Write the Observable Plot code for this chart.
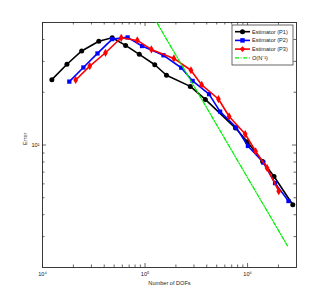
<!DOCTYPE html>
<html>
<head>
<meta charset="utf-8">
<script src="https://cdn.jsdelivr.net/npm/d3@7"></script>
<script src="https://cdn.jsdelivr.net/npm/@observablehq/plot@0.6"></script>
<style>
  html, body { margin: 0; padding: 0; background: #fff; }
  #wrap { position: relative; width: 327px; height: 300px; }
  #legend { position: absolute; left: 0; top: 0; }
</style>
</head>
<body>
<div id="wrap"></div>
<script>
// ---- data ----
const p1Dofs = [12340, 17320, 24100, 35400, 47840, 64600, 87900, 124400, 161900, 276200, 387300, 762700, 993000, 1403000, 1812000, 2761000];
const p1Err  = [23.6, 28.9, 34.4, 39.1, 40.9, 37.0, 32.9, 28.7, 25.0, 21.6, 18.2, 12.49, 10.45, 8.04, 6.61, 4.56];

const p2Dofs = [18260, 25050, 34360, 47840, 67600, 93500, 151300, 225400, 291000, 421000, 539500, 774000, 1007000, 1425000, 1853000, 2505000];
const p2Err  = [23.0, 27.7, 33.3, 40.2, 41.1, 36.7, 32.5, 27.6, 23.2, 19.5, 15.5, 12.6, 9.87, 7.94, 6.06, 4.79];

const p3Dofs = [21070, 28900, 41140, 58600, 84100, 115300, 191000, 280400, 356600, 519700, 661000, 948000, 1197000, 1548000, 2013000];
const p3Err  = [23.5, 28.2, 33.6, 40.9, 39.5, 35.1, 31.2, 26.7, 22.0, 18.3, 14.55, 11.55, 9.21, 7.40, 5.45];

const refDofs = [100000, 2448000];
const refErr  = [65.1, 2.66];

const seriesNames = ["Estimator (P1)", "Estimator (P2)", "Estimator (P3)", "O(N\u207B\u00B9)"];
const seriesColors = ["#000000", "#0000ff", "#ff0000", "#00ee00"];
const seriesSymbols = ["circle", "square", "diamond", null];

const xTickValues = [1e4, 1e5, 1e6];
const xTickLabels = ["10\u2074", "10\u2075", "10\u2076"];
const yTickValues = [10];
const yTickLabels = ["10\u00B9"];
const xTitle = "Number of DOFs";
const yTitle = "Error";

// ---- build ----
const W = 327, H = 300, mL = 42, mR = 31, mT = 22, mB = 33;
const frameW = W - mL - mR, frameH = H - mT - mB;
const xDomain = [1e4, 3e6], yDomain = [2, 50];

const minor = (lo, hi) => {
  const out = [];
  for (let e = Math.floor(Math.log10(lo)); e <= Math.ceil(Math.log10(hi)); e++)
    for (let m = 2; m <= 9; m++) { const v = m * 10 ** e; if (v > lo && v < hi) out.push(v); }
  return out;
};
const xMinor = minor(xDomain[0], xDomain[1]);
const yMinor = minor(yDomain[0], yDomain[1]);

const toRows = (xs, ys) => xs.map((x, i) => ({x, y: ys[i]}));
const s1 = toRows(p1Dofs, p1Err), s2 = toRows(p2Dofs, p2Err), s3 = toRows(p3Dofs, p3Err), sr = toRows(refDofs, refErr);

const axisColor = "#262626";
const font = "'Liberation Sans', Arial, Helvetica, sans-serif";
const maj = 4, mnr = 2.5;

const tickMarks = (vals, len) => [
  Plot.ruleX(vals, {x: d => d, insetTop: frameH - len, stroke: axisColor, strokeWidth: 0.7}),
  Plot.ruleX(vals, {x: d => d, insetBottom: frameH - len, stroke: axisColor, strokeWidth: 0.7})
];
const tickMarksY = (vals, len) => [
  Plot.ruleY(vals, {y: d => d, insetRight: frameW - len, stroke: axisColor, strokeWidth: 0.7}),
  Plot.ruleY(vals, {y: d => d, insetLeft: frameW - len, stroke: axisColor, strokeWidth: 0.7})
];

const lineW = 1.6;
const chart = Plot.plot({
  width: W, height: H,
  marginLeft: mL, marginRight: mR, marginTop: mT, marginBottom: mB,
  style: {fontFamily: font, fontSize: "5.6px", color: "#222", background: "#fff"},
  x: {type: "log", domain: xDomain, axis: null},
  y: {type: "log", domain: yDomain, axis: null},
  marks: [
    ...tickMarks(xMinor, mnr), ...tickMarks(xTickValues, maj),
    ...tickMarksY(yMinor, mnr), ...tickMarksY(yTickValues, maj),
    Plot.frame({stroke: axisColor, strokeWidth: 0.9}),
    Plot.line(s1, {x: "x", y: "y", stroke: seriesColors[0], strokeWidth: lineW}),
    Plot.dot(s1, {x: "x", y: "y", fill: seriesColors[0], r: 2.5, symbol: seriesSymbols[0]}),
    Plot.line(s2, {x: "x", y: "y", stroke: seriesColors[1], strokeWidth: lineW}),
    Plot.dot(s2, {x: "x", y: "y", fill: seriesColors[1], r: 2.4, symbol: seriesSymbols[1]}),
    Plot.line(s3, {x: "x", y: "y", stroke: seriesColors[2], strokeWidth: lineW}),
    Plot.dot(s3, {x: "x", y: "y", fill: seriesColors[2], r: 2.5, symbol: seriesSymbols[2]}),
    Plot.line(sr, {x: "x", y: "y", stroke: seriesColors[3], strokeWidth: 1.3, strokeDasharray: "4,1.6,1,1.6", clip: true}),
    Plot.text(xTickValues, {x: d => d, text: (d, i) => xTickLabels[i], frameAnchor: "bottom", dy: 8, fill: "#222"}),
    Plot.text(yTickValues, {y: d => d, text: (d, i) => yTickLabels[i], frameAnchor: "left", dx: -3, textAnchor: "end", fill: "#222"}),
    Plot.text([xTitle], {text: d => d, frameAnchor: "bottom", dy: 17, fill: "#222"}),
    Plot.text([yTitle], {text: d => d, frameAnchor: "left", dx: -17, rotate: -90, fill: "#222"})
  ]
});
const wrap = document.getElementById("wrap");
wrap.appendChild(chart);

// ---- legend overlay ----
const lg = d3.select(wrap).append("svg").attr("id", "legend").attr("width", W).attr("height", H)
  .style("font-family", font).style("font-size", "5.6px");
const lx = 232, ly = 25, lw = 61, lh = 40;
lg.append("rect").attr("x", lx).attr("y", ly).attr("width", lw).attr("height", lh)
  .attr("fill", "#fff").attr("stroke", axisColor).attr("stroke-width", 0.7);
seriesNames.forEach((name, i) => {
  const yy = ly + 6.7 + i * 8.7;
  const line = lg.append("line").attr("x1", lx + 3).attr("x2", lx + 18).attr("y1", yy).attr("y2", yy)
    .attr("stroke", seriesColors[i]).attr("stroke-width", i < 3 ? lineW : 1.3);
  if (i === 3) line.attr("stroke-dasharray", "4,1.6,1,1.6");
  if (seriesSymbols[i]) {
    const sym = {circle: d3.symbolCircle, square: d3.symbolSquare, diamond: d3.symbolDiamond2}[seriesSymbols[i]];
    lg.append("path").attr("d", d3.symbol(sym, 20)()).attr("transform", `translate(${lx + 10.5},${yy})`)
      .attr("fill", seriesColors[i]);
  }
  lg.append("text").attr("x", lx + 20).attr("y", yy).attr("dy", "0.35em").attr("fill", "#222").text(name);
});
</script>
</body>
</html>
